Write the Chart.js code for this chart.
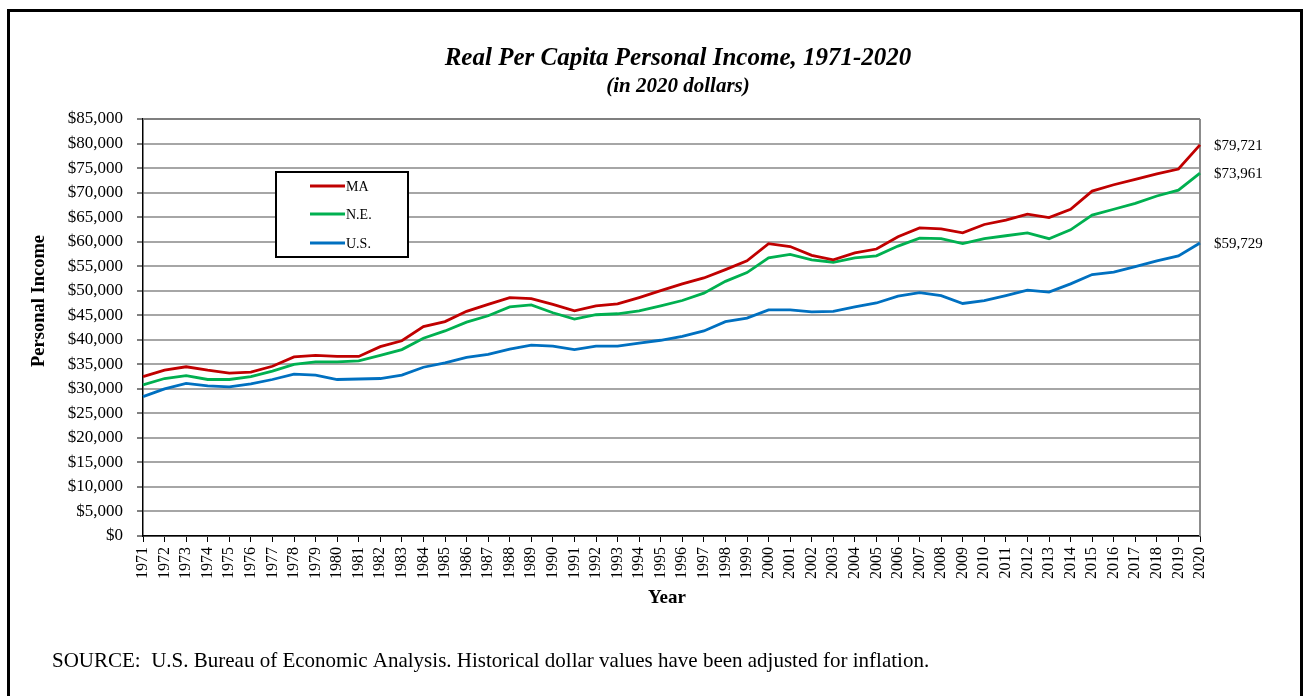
<!DOCTYPE html>
<html>
<head>
<meta charset="utf-8">
<script src="https://cdn.jsdelivr.net/npm/chart.js@4/dist/chart.umd.min.js"></script>
<style>
  html, body { margin: 0; padding: 0; background: #fff; }
  #wrap { width: 1304px; height: 696px; position: relative; }
</style>
</head>
<body>
<div id="wrap"><canvas id="c" width="1304" height="696"></canvas></div>
<script>
const years = ["1971","1972","1973","1974","1975","1976","1977","1978","1979","1980",
  "1981","1982","1983","1984","1985","1986","1987","1988","1989","1990",
  "1991","1992","1993","1994","1995","1996","1997","1998","1999","2000",
  "2001","2002","2003","2004","2005","2006","2007","2008","2009","2010",
  "2011","2012","2013","2014","2015","2016","2017","2018","2019","2020"];

const maValues = [32500,33800,34500,33800,33200,33400,34600,36500,36800,36600,
  36600,38600,39800,42700,43700,45800,47200,48600,48400,47200,
  45900,46900,47300,48600,50000,51400,52600,54300,56100,59600,
  59000,57200,56300,57700,58500,61000,62800,62600,61800,63500,
  64400,65600,64900,66600,70300,71600,72700,73800,74800,79721];

const neValues = [30800,32100,32700,31900,31900,32500,33600,35000,35500,35500,
  35700,36800,38000,40300,41800,43600,44900,46700,47100,45500,
  44200,45100,45300,45900,46900,48000,49500,51900,53700,56700,
  57400,56300,55800,56700,57100,59100,60700,60600,59600,60600,
  61200,61800,60600,62400,65400,66600,67800,69300,70500,73961];

const usValues = [28400,30000,31100,30600,30400,31000,31900,33000,32800,31900,
  32000,32100,32800,34400,35300,36400,37000,38100,38900,38700,
  38000,38700,38700,39300,39900,40700,41800,43700,44400,46100,
  46100,45700,45800,46700,47500,48900,49600,49000,47400,48000,
  49000,50100,49700,51400,53300,53800,54900,56100,57100,59729];

const seriesNames = ["MA", "N.E.", "U.S."];
const seriesColors = ["#C00000", "#00B050", "#0070C0"];

const titleText = "Real Per Capita Personal Income, 1971-2020";
const subtitleText = "(in 2020 dollars)";
const yTitle = "Personal Income";
const xTitle = "Year";
const sourceText = "SOURCE:  U.S. Bureau of Economic Analysis. Historical dollar values have been adjusted for inflation.";

const SERIF = "'Liberation Serif', 'Times New Roman', serif";
const fmt = v => "$" + Number(v).toLocaleString("en-US");

const decor = {
  id: "decor",
  beforeDraw(chart) {
    const ctx = chart.ctx;
    ctx.save();
    ctx.fillStyle = "#fff";
    ctx.fillRect(0, 0, chart.width, chart.height);
    ctx.restore();
  },
  beforeDatasetsDraw(chart) {
    const ctx = chart.ctx, a = chart.chartArea;
    ctx.save();
    ctx.strokeStyle = "#8C8C8C";
    ctx.lineWidth = 2;
    ctx.beginPath();
    ctx.moveTo(a.right, a.top);
    ctx.lineTo(a.right, a.bottom);
    ctx.stroke();
    ctx.strokeStyle = "#7F7F7F";
    ctx.beginPath();
    ctx.moveTo(a.left, a.top);
    ctx.lineTo(a.right, a.top);
    ctx.stroke();
    ctx.restore();
  },
  afterDraw(chart) {
    const ctx = chart.ctx, a = chart.chartArea;
    ctx.save();
    ctx.strokeStyle = "#000";
    ctx.lineWidth = 3;
    ctx.strokeRect(8.5, 10.5, 1293, 720);

    ctx.fillStyle = "#000";
    ctx.textAlign = "center";
    ctx.textBaseline = "middle";
    ctx.font = "italic bold 25px " + SERIF;
    ctx.fillText(titleText, 678, 59);
    ctx.font = "italic bold 21px " + SERIF;
    ctx.fillText(subtitleText, 678, 87);

    ctx.font = "bold 19px " + SERIF;
    ctx.fillText(xTitle, 667, 598);
    ctx.save();
    ctx.translate(39, 301);
    ctx.rotate(-Math.PI / 2);
    ctx.font = "bold 18.5px " + SERIF;
    ctx.fillText(yTitle, 0, 0);
    ctx.restore();

    ctx.textAlign = "left";
    ctx.font = "21px " + SERIF;
    ctx.fillText(sourceText, 52, 661);

    ctx.font = "15px " + SERIF;
    chart.data.datasets.forEach((ds, i) => {
      const meta = chart.getDatasetMeta(i);
      const last = meta.data[meta.data.length - 1];
      ctx.fillText(fmt(ds.data[ds.data.length - 1]), a.right + 14, last.y + 1);
    });

    const bx = 276, by = 172, bw = 132, bh = 85;
    ctx.fillStyle = "#fff";
    ctx.fillRect(bx, by, bw, bh);
    ctx.strokeStyle = "#000";
    ctx.lineWidth = 2;
    ctx.strokeRect(bx, by, bw, bh);
    const rows = [186, 214, 243];
    ctx.font = "14px " + SERIF;
    chart.data.datasets.forEach((ds, i) => {
      ctx.strokeStyle = ds.borderColor;
      ctx.lineWidth = 3;
      ctx.beginPath();
      ctx.moveTo(310, rows[i]);
      ctx.lineTo(345, rows[i]);
      ctx.stroke();
      ctx.fillStyle = "#000";
      ctx.fillText(ds.label, 346, rows[i] + 1);
    });
    ctx.restore();
  }
};

new Chart(document.getElementById("c"), {
  type: "line",
  data: {
    labels: years,
    datasets: [
      { label: seriesNames[0], data: maValues, borderColor: seriesColors[0] },
      { label: seriesNames[1], data: neValues, borderColor: seriesColors[1] },
      { label: seriesNames[2], data: usValues, borderColor: seriesColors[2] }
    ].map(d => Object.assign(d, { borderWidth: 2.8, pointRadius: 0, tension: 0, fill: false }))
  },
  options: {
    responsive: false,
    animation: false,
    devicePixelRatio: 1,
    layout: { padding: { top: 119, right: 104, bottom: 0, left: 0 } },
    plugins: { legend: { display: false }, title: { display: false }, tooltip: { enabled: false } },
    scales: {
      x: {
        offset: false,
        grid: { drawOnChartArea: false, drawTicks: true, tickLength: 6, tickColor: "#000", tickWidth: 1 },
        border: { display: true, color: "#000", width: 1.5 },
        ticks: {
          autoSkip: false, maxRotation: 90, minRotation: 90, padding: 5,
          color: "#000", font: { family: SERIF, size: 16 }
        },
        afterFit(s) { s.height = 160; }
      },
      y: {
        min: 0, max: 85000,
        grid: { color: "#A6A6A6", lineWidth: 2, drawTicks: true, tickLength: 6, tickColor: "#000", tickWidth: 1 },
        border: { display: true, color: "#000", width: 1.5 },
        ticks: {
          stepSize: 5000, padding: 14, color: "#000",
          font: { family: SERIF, size: 17 },
          callback: v => fmt(v)
        },
        afterFit(s) { s.width = 143; }
      }
    }
  },
  plugins: [decor]
});
</script>
</body>
</html>
